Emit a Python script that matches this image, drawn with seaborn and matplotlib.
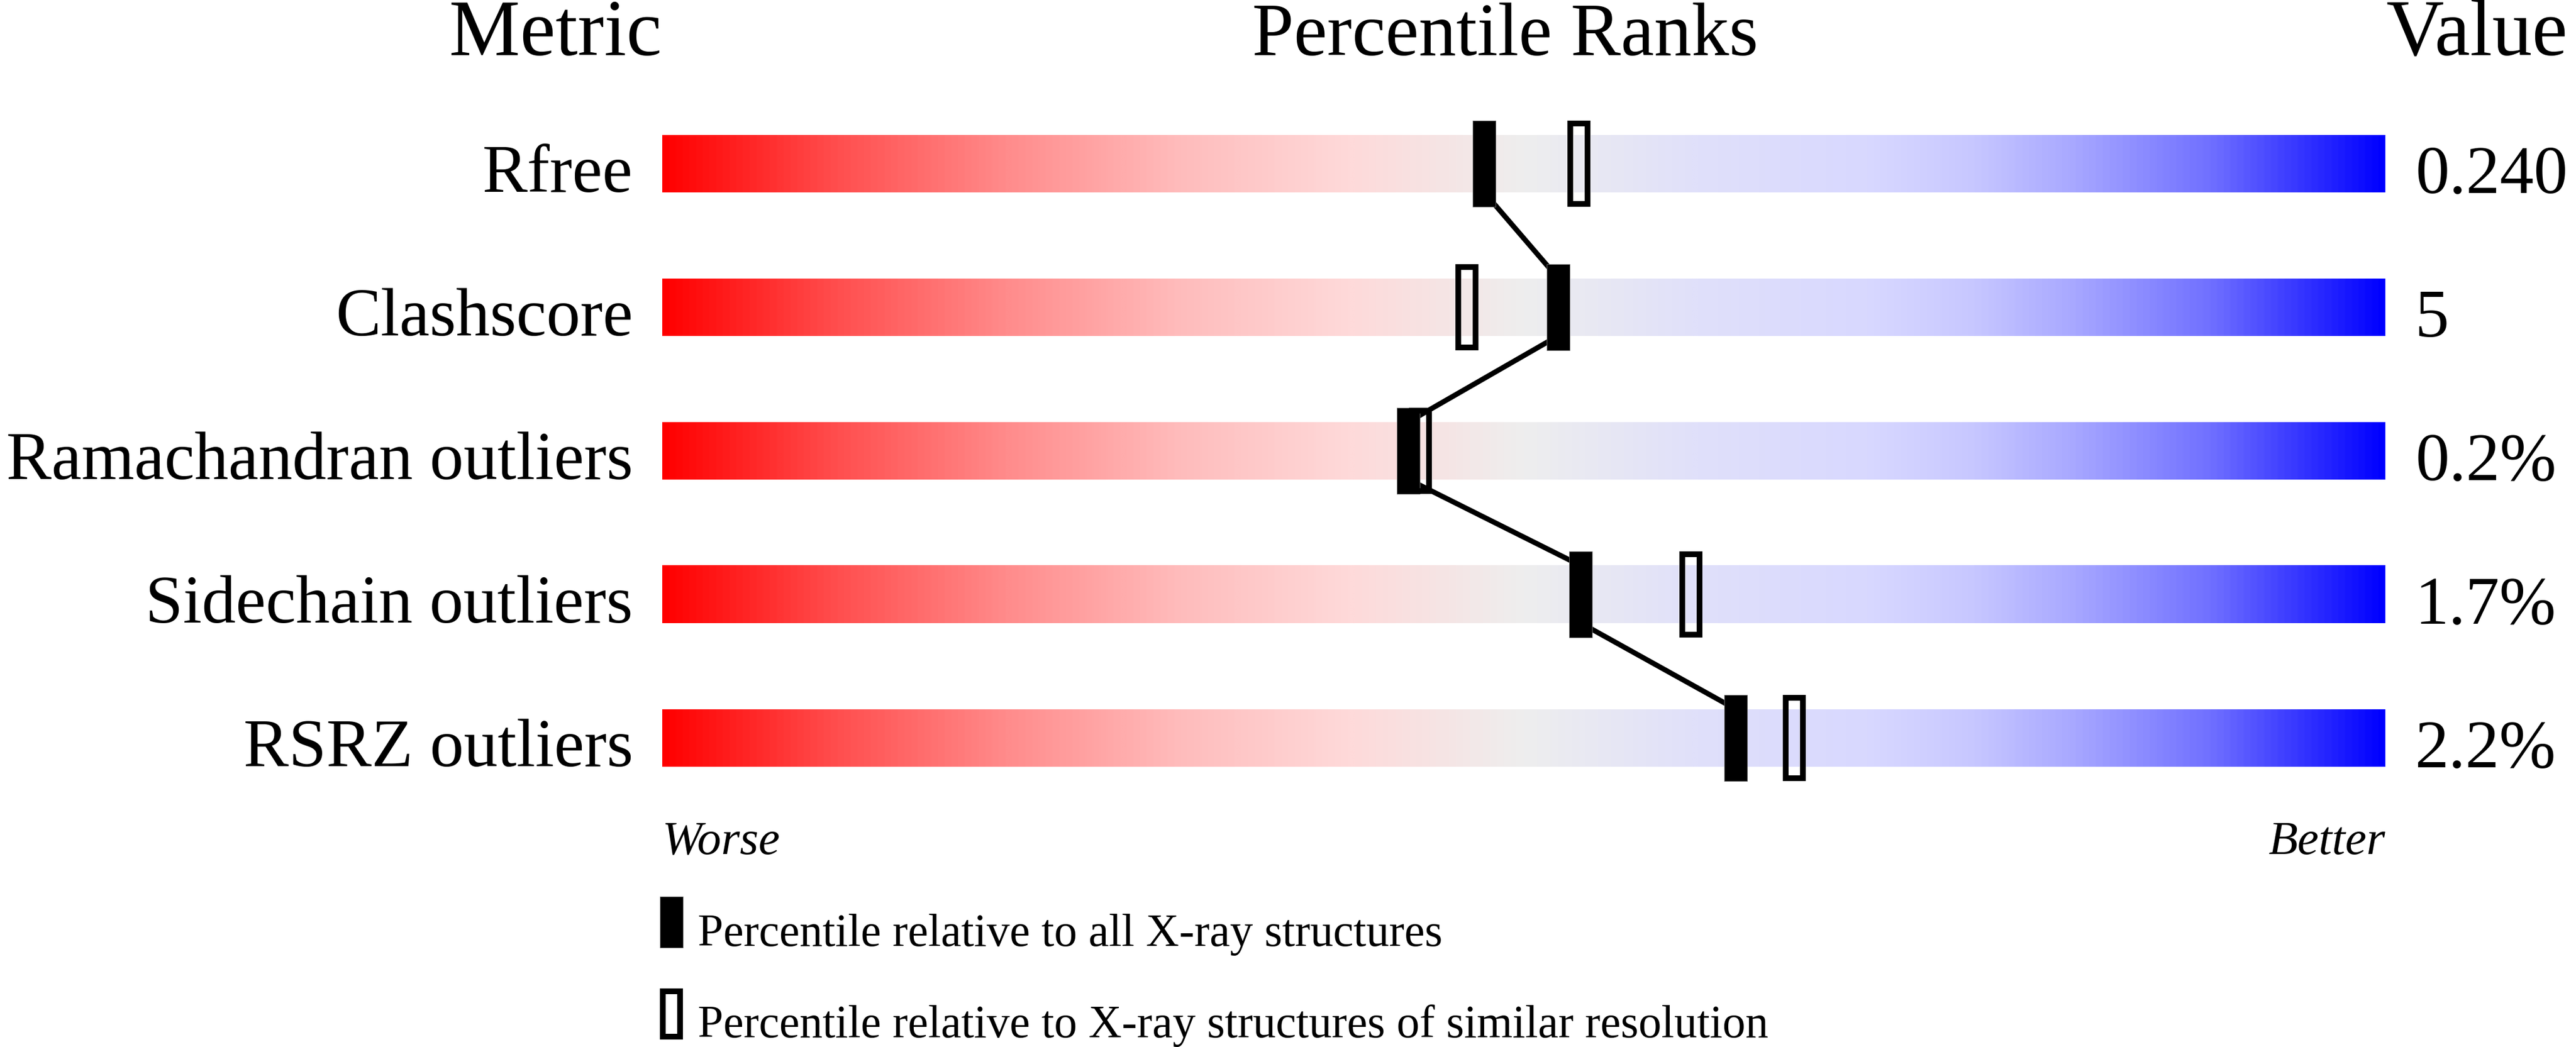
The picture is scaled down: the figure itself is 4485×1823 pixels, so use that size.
import numpy as np
import pandas as pd
import matplotlib
matplotlib.use("Agg")
import matplotlib.pyplot as plt
from matplotlib.patches import Rectangle
from matplotlib.colors import LinearSegmentedColormap
import seaborn as sns

# ---------------- data ----------------
metrics = ["Rfree", "Clashscore", "Ramachandran outliers", "Sidechain outliers", "RSRZ outliers"]
values = ["0.240", "5", "0.2%", "1.7%", "2.2%"]
pct_all = [47.7, 52.0, 43.3, 53.3, 62.3]       # percentile relative to all X-ray structures
pct_similar = [53.2, 46.7, 44.0, 59.7, 65.7]   # percentile relative to similar resolution
legend_labels = ["Percentile relative to all X-ray structures",
                 "Percentile relative to X-ray structures of similar resolution"]
headers = ["Metric", "Percentile Ranks", "Value"]
axis_ends = ["Worse", "Better"]

# ---------------- style ----------------
sns.set_theme(style="white")
plt.rcParams["font.family"] = ["Liberation Serif", "DejaVu Serif"]
plt.rcParams["text.color"] = "black"

grad_stops = [
    (0.00, (255, 0, 0)),
    (0.10, (255, 78, 78)),
    (0.20, (255, 140, 140)),
    (0.30, (255, 188, 188)),
    (0.40, (254, 218, 218)),
    (0.50, (238, 238, 238)),
    (0.60, (224, 224, 250)),
    (0.70, (216, 216, 255)),
    (0.76, (200, 200, 255)),
    (0.82, (168, 168, 255)),
    (0.90, (112, 112, 255)),
    (1.00, (0, 0, 255)),
]
cmap = LinearSegmentedColormap.from_list(
    "slider", [(p, tuple(c / 255 for c in rgb)) for p, rgb in grad_stops])

W, H, DPI = 4485, 1824, 100
fig = plt.figure(figsize=(W / DPI, H / DPI), dpi=DPI)
ax = fig.add_axes([0, 0, 1, 1])

# pixel layout: percentile 0..100 -> px 1153..4153 ; row i centre -> px 285.7 + 250 i
PX0, PXPP = 1153.0, 30.0
PY0, PYPR = 285.7, 250.0
def X(px):
    return (px - PX0) / PXPP
def Y(py):
    return (py - PY0) / PYPR

BAR_H = 0.2            # half height of bar (50 px)
MK_HW = 20 / PXPP      # half width of markers (20 px)
MK_HH = 75 / PYPR      # half height of markers (75 px)
LW_PX = 10
inset_x = (LW_PX / 2) / PXPP
inset_y = (LW_PX / 2) / PYPR
lw_pt = LW_PX * 72 / DPI

grad = np.linspace(0, 1, 1024).reshape(1, -1)
n = len(metrics)
for i in range(n):
    ax.imshow(grad, cmap=cmap, aspect="auto", interpolation="bilinear",
              extent=(0, 100, i + BAR_H, i - BAR_H), zorder=1)

# connecting line through the "all structures" percentiles
line_df = pd.DataFrame({
    "x": [p for p in pct_all for _ in (0, 1)],
    "y": [i + s for i in range(n) for s in (-BAR_H, BAR_H)],
})
sns.lineplot(data=line_df, x="x", y="y", sort=False, estimator=None,
             color="black", lw=9 * 72 / DPI, ax=ax, zorder=2)

for i in range(n):
    pa, ps = pct_all[i], pct_similar[i]
    ax.add_patch(Rectangle((pa - MK_HW, i - MK_HH), 2 * MK_HW, 2 * MK_HH,
                           facecolor="black", edgecolor="#777777", lw=0.6, zorder=3))
    ax.add_patch(Rectangle((ps - MK_HW + inset_x, i - MK_HH + inset_y),
                           2 * (MK_HW - inset_x), 2 * (MK_HH - inset_y),
                           facecolor="none", edgecolor="black", lw=lw_pt,
                           joinstyle="miter", zorder=4))

# headers
hdr_fs = 100
y_hdr = Y(96)
ax.text(X(1152), y_hdr, headers[0], ha="right", va="baseline", fontsize=hdr_fs, color="black")
ax.text(X(2621), y_hdr, headers[1], ha="center", va="baseline", fontsize=94, color="black")
ax.text(X(4155), y_hdr, headers[2], ha="left", va="baseline", fontsize=hdr_fs, color="black")

# row labels and values
row_fs = 85
for i in range(n):
    ax.text(X(1102), i + 0.193, metrics[i], ha="right", va="baseline", fontsize=row_fs, color="black")
    ax.text(X(4205), i + 0.2, values[i], ha="left", va="baseline", fontsize=row_fs, color="black")

# Worse / Better
small_fs = 60
y_wb = Y(1487)
ax.text(0, y_wb, axis_ends[0], ha="left", va="baseline", fontsize=small_fs, style="italic", color="black")
ax.text(100, y_wb, axis_ends[1], ha="right", va="baseline", fontsize=small_fs, style="italic", color="black")

# legend
leg_fs = 57.5
lx0, lx1 = X(1149), X(1189)
ax.add_patch(Rectangle((lx0, Y(1562)), lx1 - lx0, Y(1651) - Y(1562),
                       facecolor="black", edgecolor="#777777", lw=0.6, zorder=3))
ax.add_patch(Rectangle((lx0 + inset_x, Y(1722) + inset_y),
                       lx1 - lx0 - 2 * inset_x, Y(1811) - Y(1722) - 2 * inset_y,
                       facecolor="none", edgecolor="black", lw=lw_pt,
                       joinstyle="miter", zorder=4))
ax.text(X(1215), Y(1647), legend_labels[0], ha="left", va="baseline", fontsize=leg_fs, color="black")
ax.text(X(1215), Y(1806), legend_labels[1], ha="left", va="baseline", fontsize=leg_fs, color="black")

ax.set_xlim(X(0), X(W))
ax.set_ylim(Y(H), Y(0))
ax.axis("off")

fig.savefig("out.png", dpi=DPI, facecolor="white")
